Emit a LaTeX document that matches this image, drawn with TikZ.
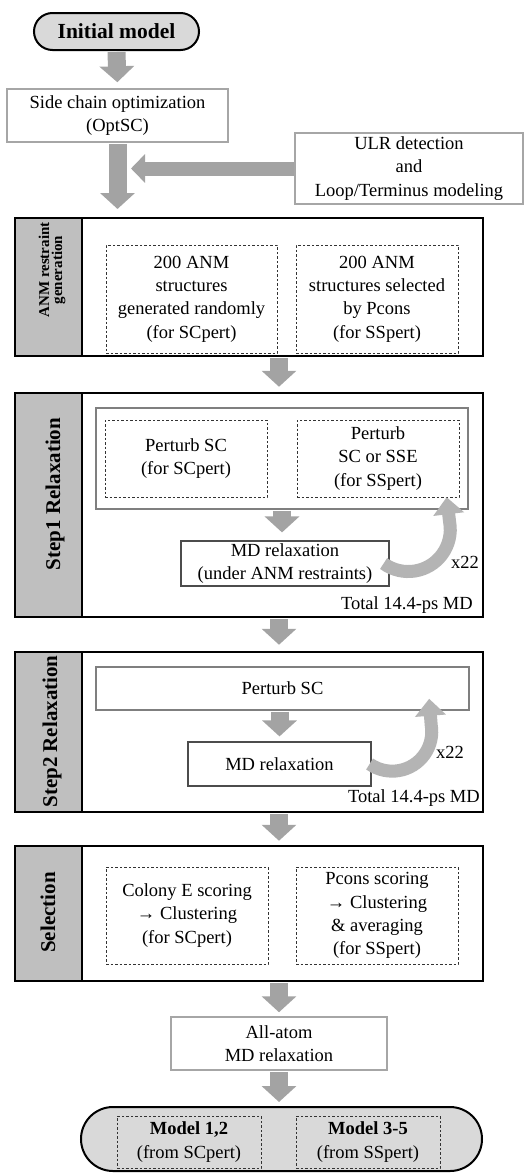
\documentclass[tikz,border=0pt]{standalone}
\usepackage{fontspec}
\setmainfont{Liberation Serif}
\usetikzlibrary{arrows.meta, positioning, shapes.misc}

\definecolor{boxgray}{HTML}{A6A6A6}
\definecolor{stripgray}{HTML}{BFBFBF}
\definecolor{termgray}{HTML}{D9D9D9}
\definecolor{flowgray}{HTML}{A3A3A3}
\definecolor{loopgray}{HTML}{B4B4B4}
\definecolor{innergray}{HTML}{7F7F7F}

\begin{document}
\begin{tikzpicture}[
            x = 1pt, y = -1pt, % one unit = one pixel, y going down
            every node/.style = {font=\fontsize{18.5}{23.3}\selectfont, align=center, inner sep=0pt},
            flow/.style = {draw=flowgray, line width=18pt, shorten <=1pt, -{Triangle[width=34pt,length=16pt]}},
            sideflow/.style = {draw=flowgray, line width=14pt, -{Triangle[width=28pt,length=14pt]}},
            backarrow/.style = {draw=loopgray, line width=13pt, -{Triangle[width=30pt,length=17pt]}},
        ]

        \tikzstyle{term}=[
            rounded rectangle,
            draw, line width=2pt,
            fill = termgray,
            font = \bfseries\fontsize{21.5}{25}\selectfont
        ]
        \tikzstyle{plain}=[draw=boxgray, line width=1.5pt, fill=white]
        \tikzstyle{stage}=[draw, line width=2.5pt, fill=white, minimum width=468pt]
        \tikzstyle{strip}=[draw, line width=2.5pt, fill=stripgray, rotate=90, minimum height=67pt]
        \tikzstyle{striptext}=[rotate=90, font=\bfseries\fontsize{21}{24}\selectfont]
        \tikzstyle{dbox}=[draw=black!80, line width=0.8pt, dash pattern=on 2.5pt off 2pt]
        \tikzstyle{inner}=[draw=innergray, line width=1.2pt]
        \tikzstyle{mdbox}=[draw=black!70, line width=1.2pt, fill=white]

        \useasboundingbox (0,0) rectangle (529,1173);

        % top part
        \node[term, minimum width=165pt, minimum height=37pt] (init) at (116.5,31.5) {Initial model};
        \node[plain, minimum width=221pt, minimum height=53pt] (optsc) at (117.5,115.5) {Side chain optimization\\(OptSC)};
        \node[plain, minimum width=228pt, minimum height=71pt] (ulr) at (409,168.5) {ULR detection\\and\\Loop/Terminus modeling};
        \coordinate (join) at (117.5,209);
        \coordinate (merge) at (131,168.5);

        % stage frames with grey strips
        \node[stage, minimum height=138pt] (anm) at (249,287) {};
        \node[stage, minimum height=224pt] (step1) at (249,505) {};
        \node[stage, minimum height=160pt] (step2) at (249,732) {};
        \node[stage, minimum height=135pt] (selbox) at (249,913.5) {};
        \foreach \n/\y/\h in {anm/287/138, step1/505/224, step2/732/160, selbox/913.5/135}
            \node[strip, minimum width=\h] (\n-lab) at (48.5,\y) {};

        \node[striptext, font=\bfseries\fontsize{15}{13}\selectfont] (anmtxt) at (52,270) {ANM restraint\\generation};
        \node[striptext] (step1txt) at (55,494) {Step1 Relaxation};
        \node[striptext] (step2txt) at (52,731.5) {Step2 Relaxation};
        \node[striptext] (seltxt) at (48,912.5) {Selection};

        % ANM restraint generation
        \node[dbox, minimum width=171pt, minimum height=108pt] (rand) at (191.5,299) {200 ANM\\structures\\generated randomly\\(for SCpert)};
        \node[dbox, minimum width=162pt, minimum height=108pt] (picked) at (377,299) {200 ANM\\structures selected\\by Pcons\\(for SSpert)};

        % step 1
        \node[inner, minimum width=372pt, minimum height=101pt] (pert1) at (282,458.5) {};
        \node[dbox, minimum width=162pt, minimum height=77pt] (pertsc) at (186,458.5) {Perturb SC\\(for SCpert)};
        \node[dbox, minimum width=162pt, minimum height=77pt] (pertsse) at (378,458.5) {Perturb\\SC or SSE\\(for SSpert)};
        \node[mdbox, minimum width=208pt, minimum height=45pt] (md1) at (285,563.5) {MD relaxation\\(under ANM restraints)};
        \node (rep1) at (465,562) {x22};
        \node[anchor=east] (tot1) at (473,605) {Total 14.4-ps MD};

        % step 2
        \node[inner, minimum width=373pt, minimum height=43pt] (pert2) at (282.5,688.5) {Perturb SC};
        \node[mdbox, minimum width=183pt, minimum height=44pt] (md2) at (279.5,764) {MD relaxation};
        \node (rep2) at (450,752) {x22};
        \node[anchor=east] (tot2) at (480,798) {Total 14.4-ps MD};

        % selection
        \node[dbox, minimum width=162pt, minimum height=97pt] (colony) at (187,915.5) {Colony E scoring\\→ Clustering\\(for SCpert)};
        \node[dbox, minimum width=162pt, minimum height=97pt] (pcons) at (377,915.5) {Pcons scoring\\→ Clustering\\\& averaging\\(for SSpert)};

        % final part
        \node[plain, minimum width=216pt, minimum height=53pt] (allatom) at (279,1043.5) {All-atom\\MD relaxation};
        \node[term, minimum width=401pt, minimum height=64pt] (final) at (281.5,1139) {};
        \node[dbox, minimum width=144pt, minimum height=52pt] (m12) at (189,1142) {\textbf{Model 1,2}\\(from SCpert)};
        \node[dbox, minimum width=144pt, minimum height=52pt] (m35) at (368,1142) {\textbf{Model 3-5}\\(from SSpert)};

        % flow arrows
        \draw[flow, shorten >=6pt] (init.south) -- (optsc.north);
        \draw[flow] (optsc.south) -- (join);
        \draw[sideflow] (ulr.west) -- (merge);
        \draw[flow, shorten >=5pt] ([xshift=30pt]anm.south) -- ([xshift=30pt]step1.north);
        \draw[flow, shorten >=8pt] (pert1.south) -- (pert1.south |- md1.north);
        \draw[flow, shorten >=6pt] ([xshift=30pt]step1.south) -- ([xshift=30pt]step2.north);
        \draw[flow, shorten >=5pt] (md2.north |- pert2.south) -- (md2.north);
        \draw[flow, shorten >=4pt] ([xshift=30pt]step2.south) -- ([xshift=30pt]selbox.north);
        \draw[flow, shorten >=4pt] ([xshift=30pt]selbox.south) -- (allatom.north);
        \draw[flow, shorten >=4pt] (allatom.south) -- (allatom.south |- final.north);

        % repeat loops
        \draw[backarrow] ([xshift=-6pt]md1.east) arc[start angle=126, end angle=-10, radius=42] -- ++(-3,-25);
        \draw[backarrow] ([xshift=-2pt]md2.east) arc[start angle=125, end angle=-10, radius=39.5] -- ++(-2,-26);
\end{tikzpicture}
\end{document}
